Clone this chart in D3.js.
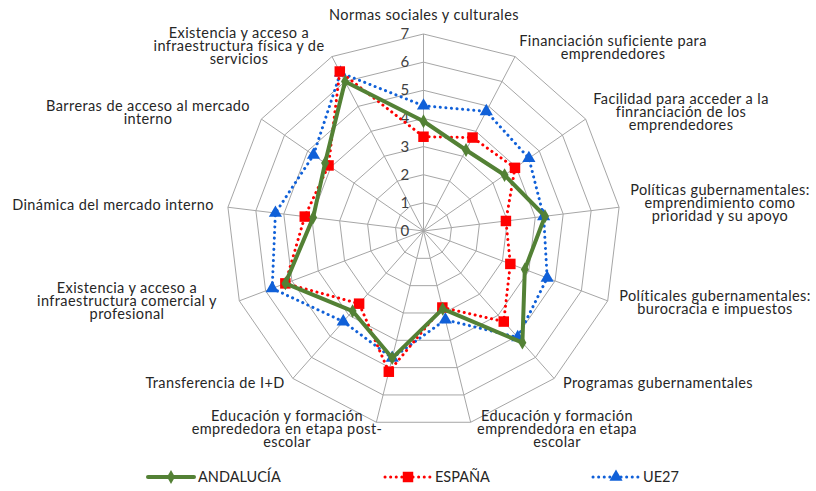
<!DOCTYPE html>
<html>
<head>
  <meta charset="utf-8">
  <script src="https://d3js.org/d3.v7.min.js"></script>
  <style>
    body { margin: 0; background: #fff; }
    svg text { font-family: Lato, "Open Sans", sans-serif; fill: #262626; }
    .grid { fill: none; stroke: #a6a6a6; stroke-width: 1; }
    .tick-label { font-size: 15px; fill: #404040; }
    .cat-label { font-size: 14.5px; letter-spacing: 0.4px; }
    .legend-label { font-size: 14.5px; }
  </style>
</head>
<body>
  <div id="chart"></div>
  <script>
    // categories (one entry per line of the label)
    var categories = [
      ["Normas sociales y culturales"],
      ["Financiación suficiente para", "emprendedores"],
      ["Facilidad para acceder a la", "finranciación de los", "emprendedores"],
      ["Políticas gubernamentales:", "emprendimiento como", "prioridad y su apoyo"],
      ["Políticales gubernamentales:", "burocracia e impuestos"],
      ["Programas gubernamentales"],
      ["Educación y formación", "emprendedora en etapa", "escolar"],
      ["Educación y formación", "emprededora en etapa post-", "escolar"],
      ["Transferencia de I+D"],
      ["Existencia y acceso a", "infraestructura comercial y", "profesional"],
      ["Dinámica del mercado interno"],
      ["Barreras de acceso al mercado", "interno"],
      ["Existencia y acceso a", "infraestructura física y de", "servicios"]
    ];
    var andalucia = [3.9, 3.25, 3.5, 4.35, 3.85, 5.3, 2.85, 4.65, 3.8, 5.25, 3.95, 4.25, 6.0];
    var espana    = [3.35, 3.75, 3.95, 2.95, 3.3, 4.3, 2.8, 5.15, 3.45, 5.25, 4.25, 4.1, 6.4];
    var ue27      = [4.45, 4.8, 4.55, 4.3, 4.7, 5.05, 3.25, 4.65, 4.3, 5.75, 5.3, 4.75, 6.35];
    var ticks = [0, 1, 2, 3, 4, 5, 6, 7];
    var seriesNames = ["ANDALUCÍA", "ESPAÑA", "UE27"];

    var width = 816, height = 491;
    var cx = 423.5, cy = 231, R = 197;

    // label centre positions (first line) per axis
    var labelPos = [
      [424, 15], [613, 41], [681, 99], [720, 190], [715, 296], [658, 383],
      [557, 416], [287, 416], [215, 383], [127, 288], [113, 205], [148, 106], [239, 33]
    ];
    var lineH = 13;

    var svg = d3.select("#chart").append("svg")
      .attr("width", width).attr("height", height);

    var n = categories.length;
    var angle = d3.scaleLinear().domain([0, n]).range([0, 2 * Math.PI]);
    var r = d3.scaleLinear().domain([0, 7]).range([0, R]);

    function pt(i, v) {
      var a = angle(i);
      return [cx + r(v) * Math.sin(a), cy - r(v) * Math.cos(a)];
    }

    // grid rings
    var g = svg.append("g");
    ticks.slice(1).forEach(function(t) {
      g.append("polygon").attr("class", "grid")
        .attr("points", d3.range(n).map(function(i) { return pt(i, t).join(","); }).join(" "));
    });
    d3.range(n).forEach(function(i) {
      var p = pt(i, 7);
      g.append("line").attr("class", "grid")
        .attr("x1", cx).attr("y1", cy).attr("x2", p[0]).attr("y2", p[1]);
    });

    // tick labels
    svg.selectAll(".tick-label").data(ticks).enter().append("text")
      .attr("class", "tick-label")
      .attr("x", cx - 23)
      .attr("y", function(d) { return cy - r(d) + 5; })
      .text(function(d) { return d; });

    // category labels
    categories.forEach(function(lines, i) {
      var t = svg.append("text").attr("class", "cat-label").attr("text-anchor", "middle");
      lines.forEach(function(l, k) {
        t.append("tspan").attr("x", labelPos[i][0])
          .attr("y", labelPos[i][1] + k * lineH + 5).text(l);
      });
    });

    var series = [
      { name: seriesNames[0], values: andalucia, color: "#538135", width: 4, dash: null, marker: "diamond" },
      { name: seriesNames[1], values: espana, color: "#ff0000", width: 3, dash: "0.1 5.5", marker: "square" },
      { name: seriesNames[2], values: ue27, color: "#1060d8", width: 3, dash: "0.1 5.5", marker: "triangle" }
    ];
    var symbols = {
      diamond: d3.symbol().type(d3.symbolDiamond).size(55),
      square: d3.symbol().type(d3.symbolSquare).size(110),
      triangle: d3.symbol().type(d3.symbolTriangle).size(75)
    };

    var line = d3.line().curve(d3.curveLinearClosed);

    // draw UE27 first, then España, then Andalucía on top
    series.slice().reverse().forEach(function(s) {
      var pts = s.values.map(function(v, i) { return pt(i, v); });
      svg.append("path")
        .attr("d", line(pts))
        .attr("fill", "none")
        .attr("stroke", s.color)
        .attr("stroke-width", s.width)
        .attr("stroke-linecap", "round")
        .attr("stroke-linejoin", "round")
        .attr("stroke-dasharray", s.dash);
      svg.selectAll(null).data(pts).enter().append("path")
        .attr("d", symbols[s.marker])
        .attr("transform", function(d) { return "translate(" + d[0] + "," + d[1] + ")"; })
        .attr("fill", s.color);
    });

    // legend
    var legX = [148, 385, 593];
    var legY = 477;
    series.forEach(function(s, i) {
      var lg = svg.append("g").attr("transform", "translate(" + legX[i] + "," + legY + ")");
      lg.append("line").attr("x1", 0).attr("x2", 46).attr("y1", 0).attr("y2", 0)
        .attr("stroke", s.color).attr("stroke-width", s.width)
        .attr("stroke-linecap", "round").attr("stroke-dasharray", s.dash);
      lg.append("path").attr("d", symbols[s.marker]).attr("transform", "translate(23,0)")
        .attr("fill", s.color);
      lg.append("text").attr("class", "legend-label").attr("x", 50).attr("y", 5).text(s.name);
    });
  </script>
</body>
</html>
